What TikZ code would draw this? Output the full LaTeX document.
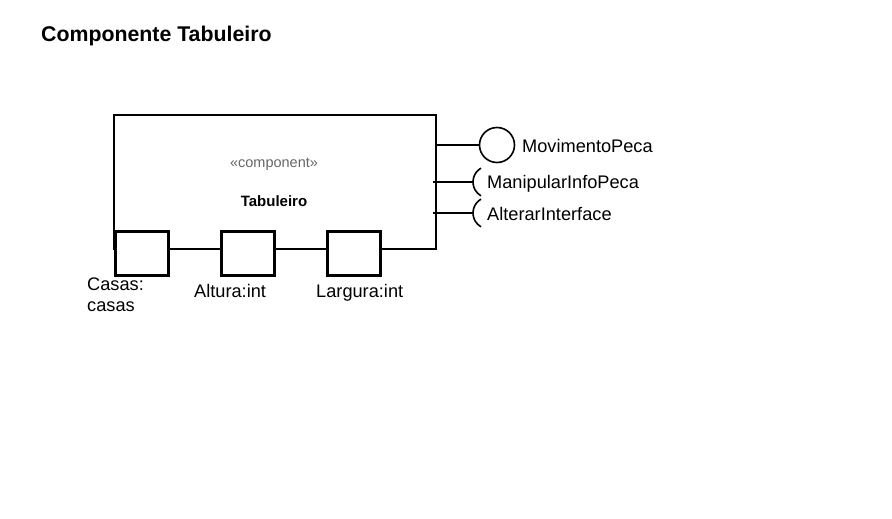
\documentclass[tikz,border=0pt]{standalone}
\usepackage{fontspec}
\setmainfont{Liberation Sans}
\begin{document}
\begin{tikzpicture}[x=1pt,y=-1pt,
  lbl/.style={anchor=base west, inner sep=0pt, font=\fontsize{18.2}{21}\selectfont},
  compbox/.style={draw, line width=2.2pt, minimum width=322pt, minimum height=134pt, inner sep=0pt},
  portbox/.style={draw, fill=white, line width=3pt, minimum width=53pt, minimum height=44pt, inner sep=0pt},
  conn/.style={line width=1.6pt},
  lolli/.style={draw, circle, line width=1.6pt, minimum size=35pt, inner sep=0pt}]
\useasboundingbox (0,0) rectangle (892,519);
\node[anchor=base west, inner sep=0pt, font=\fontsize{21.3}{25}\selectfont\bfseries] (title) at (41,41.7) {Componente Tabuleiro};
% component
\node[compbox] (comp) at (275,182) {};
\node[anchor=base, inner sep=0pt, text=black!60, font=\fontsize{14.5}{17}\selectfont] (stereo) at (274,167) {«component»};
\node[anchor=base, inner sep=0pt, font=\fontsize{15}{18}\selectfont\bfseries] (cname) at (274,206) {Tabuleiro};
% ports
\node[portbox] (pcasas) at (141.5,253) {};
\node[portbox] (paltura) at (247.5,253) {};
\node[portbox] (plargura) at (353.5,253) {};
\node[lbl] (lcasas1) at (87,290) {Casas:};
\node[lbl] (lcasas2) at (87,311) {casas};
\node[lbl] (laltura) at (194,297) {Altura:int};
\node[lbl] (llargura) at (316,297) {Largura:int};
% provided interface
\node[lolli] (mov) at (497,145) {};
\draw[conn] (comp.east |- mov.west) -- (mov.west);
\node[lbl] (lmov) at (522,152) {MovimentoPeca};
% required interfaces
\coordinate (s1) at (473,182);
\coordinate (s2) at (473,213);
\coordinate (e1) at (433,182);
\coordinate (e2) at (433,213);
\draw[conn] (e1) -- (s1);
\draw[conn] (e2) -- (s2);
\draw[conn] ([xshift=8pt,yshift=13.86pt]s1) arc[start angle=120, end angle=240, radius=16pt];
\draw[conn] ([xshift=8pt,yshift=13.86pt]s2) arc[start angle=120, end angle=240, radius=16pt];
\node[lbl] (lman) at (487,188) {ManipularInfoPeca};
\node[lbl] (lalt) at (487,220) {AlterarInterface};
\end{tikzpicture}
\end{document}
